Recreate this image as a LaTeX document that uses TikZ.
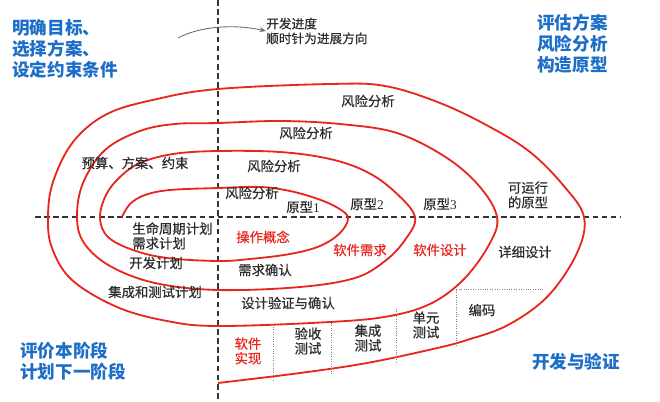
\documentclass[tikz,border=0pt]{standalone}
\usepackage{fontspec}
\setmainfont{Noto Sans CJK SC}
\newfontfamily\labelfont[FakeBold=0.6]{Noto Sans CJK SC}
\newfontfamily\digitfont{Liberation Serif}
\usepackage{xcolor}
\usepackage{tikz}
\usetikzlibrary{arrows.meta}
\definecolor{spiralred}{RGB}{232,38,30}
\definecolor{goalblue}{RGB}{28,110,200}
\definecolor{labelgray}{RGB}{45,45,45}

\begin{document}
\begin{tikzpicture}[
    x=0.025cm, y=-0.025cm,
    lbl/.style={font=\labelfont\fontsize{9.5}{10.5}\selectfont, text=labelgray, inner sep=0pt, align=center},
    redlbl/.style={lbl, text=spiralred},
    goal/.style={font=\fontsize{12.5}{15}\selectfont\bfseries, text=goalblue, inner sep=0pt, align=left},
    axis/.style={black!80, line width=0.9pt, dash pattern=on 4pt off 2.5pt},
    spiral/.style={spiralred, line width=1.3pt},
    sep/.style={densely dotted, gray, line width=0.7pt},
    arrow/.style={-{Stealth[length=1.6mm]}, gray!80!black, line width=0.6pt}
]
\useasboundingbox (0,0) rectangle (660,402);

% Axes
\draw[axis] (35,217) -- (620,217);
\draw[axis] (218,0) -- (218,402);

% Spiral
\draw[spiral] plot[smooth, tension=0.6] coordinates {
    (122,217) (130,204) (145,195) (170,190) (218,188) (260,187) (290,191) (318,199) (338,208) (348,218)
    (340,233) (320,246) (290,254) (250,259) (218,261) (167,258) (133,250) (108,237) (100,218)
    (106,195) (120,177) (140,163) (173,154) (218,151) (280,152) (330,159) (367,172) (395,192) (415,217)
    (405,240) (385,261) (355,278) (300,287) (218,290) (155,283) (110,266) (84,243) (77,217)
    (83,183) (105,150) (140,131) (175,124) (218,123) (280,121) (340,124) (397,133) (447,158) (480,187) (497,217)
    (490,243) (465,278) (432,303) (390,316) (330,322) (218,326) (167,321) (117,307) (72,280) (52,248) (48,217)
    (53,182) (73,142) (107,114) (157,99) (218,89) (330,84) (385,86) (440,103) (490,127) (530,152) (563,185) (584,217)
    (577,253) (548,296) (508,325) (467,340) (433,349) (367,363) (300,373) (218,383)};

% Quadrant titles
\node[goal, anchor=north west] (plan) at (12,19) {明确目标、\\选择方案、\\设定约束条件};
\node[goal, anchor=north west] (risk) at (537,14) {评估方案\\风险分析\\构造原型};
\node[goal, anchor=north west] (review) at (20,342) {评价本阶段\\计划下一阶段};
\node[goal] (dev) at (576,362) {开发与验证};

% Direction note
\node[lbl, align=left, anchor=west, font=\labelfont\fontsize{9}{10.5}\selectfont] (prog) at (266,31) {开发进度\\顺时针为进展方向};
\coordinate (arrowstart) at (178,38);
\draw[arrow] (arrowstart) .. controls (200,26) and (235,24) .. (prog.west);

% Risk analysis and prototypes
\node[lbl] (ra4) at (368,101) {风险分析};
\node[lbl] (ra3) at (306,133) {风险分析};
\node[lbl] (ra2) at (274,166) {风险分析};
\node[lbl] (ra1) at (252,193) {风险分析};
\node[lbl] (proto1) at (303,207) {原型{\digitfont 1}};
\node[lbl] (proto2) at (367,204) {原型{\digitfont 2}};
\node[lbl] (proto3) at (440,204) {原型{\digitfont 3}};
\node[lbl] (proto4) at (528,195) {可运行\\的原型};

% Planning
\node[lbl] (budget) at (135,163) {预算、方案、约束};
\node[lbl, align=left, anchor=north west] (lifeplan) at (132,222) {生命周期计划\\需求计划};
\node[lbl] (devplan) at (156,263) {开发计划};
\node[lbl] (testplan) at (155,292) {集成和测试计划};

% Development
\node[redlbl] (concept) at (263,237) {操作概念};
\node[redlbl] (swreq) at (360,250) {软件需求};
\node[redlbl] (swdesign) at (440,250) {软件设计};
\node[lbl] (detail) at (525,252) {详细设计};
\node[lbl] (reqcheck) at (265,270) {需求确认};
\node[lbl] (designcheck) at (288,303) {设计验证与确认};

% Implementation and tests
\node[redlbl] (impl) at (248,351) {软件\\实现};
\node[lbl] (accept) at (308,341) {验收\\测试};
\node[lbl] (inttest) at (368,338) {集成\\测试};
\node[lbl] (unittest) at (426,325) {单元\\测试};
\node[lbl] (coding) at (482,310) {编码};
\draw[sep] (273,327) -- (273,380);
\draw[sep] (331,323) -- (331,375);
\draw[sep] (396,309) -- (396,362);
\draw[sep] (456,346) -- (456,289) -- (543,289);
\end{tikzpicture}
\end{document}
